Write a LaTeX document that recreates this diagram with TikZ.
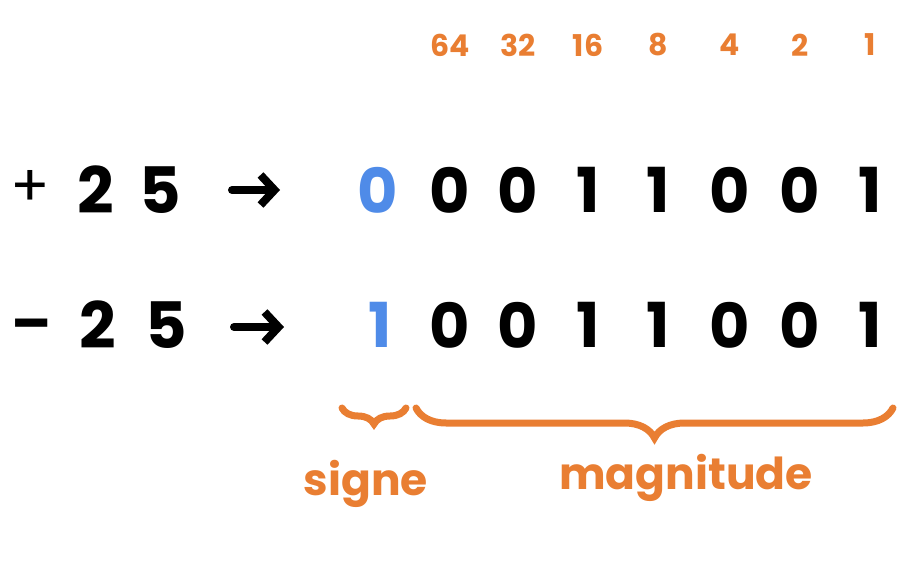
\documentclass[tikz,border=0pt]{standalone}
\usepackage{fontspec}
\setmainfont{Poppins}
\usepackage{xcolor}
\usepackage{tikz}
\usetikzlibrary{arrows.meta, positioning, decorations.pathreplacing}

\definecolor{bitorange}{HTML}{E97E32}
\definecolor{bitblue}{HTML}{4F8BE8}

\begin{document}
\begin{tikzpicture}[
        x=1pt, y=-1pt,
        every node/.style={inner sep=0pt, font=\bfseries},
        weight/.style={text=bitorange, font=\bfseries\fontsize{30}{30}\selectfont},
        bit/.style={font=\bfseries\fontsize{62}{62}\selectfont},
        signbit/.style={bit, text=bitblue},
        numchar/.style={font=\bfseries\fontsize{64}{64}\selectfont},
        pm/.style={anchor=base, font=\fontsize{58}{58}\selectfont},
        label/.style={text=bitorange, font=\bfseries\fontsize{44}{44}\selectfont},
        maparrow/.style={draw, line width=8pt, line cap=round, -{Straight Barb[length=14pt, width=30pt, line width=8pt]}},
        bracket/.style={draw=bitorange, line width=7pt, line cap=round, decorate}
    ]
        \useasboundingbox (0,0) rectangle (924,562);

        % Weights
        \foreach \w/\x in {64/450, 32/518, 16/588, 8/658, 4/730, 2/800, 1/870}
            \node[weight] (w\w) at (\x,45) {\w};

        % +25
        \node[pm] (plus) at (30,206) {+};
        \node[numchar] (pa) at (96,190) {2};
        \node[numchar] (pb) at (160,190) {5};
        \coordinate (pfrom) at (232,190);
        \coordinate (pto) at (280,190);
        \draw[maparrow] (pfrom) -- (pto);
        \node[signbit] (ps) at (378,190) {0};
        \foreach \b/\w in {0/64, 0/32, 1/16, 1/8, 0/4, 0/2, 1/1}
            \node[bit, anchor=center] (p\w) at (w\w |- ps) {\b};

        % -25
        \node[pm, font=\bfseries\fontsize{58}{58}\selectfont] (minus) at (32,343) {--};
        \node[numchar] (ma) at (98,325) {2};
        \node[numchar] (mb) at (166,325) {5};
        \coordinate (mfrom) at (234,327);
        \coordinate (mto) at (284,327);
        \draw[maparrow] (mfrom) -- (mto);
        \node[signbit] (ms) at (380,325) {1};
        \foreach \b/\w in {0/64, 0/32, 1/16, 1/8, 0/4, 0/2, 1/1}
            \node[bit, anchor=center] (m\w) at (w\w |- ms) {\b};

        % Braces
        \coordinate (sl) at (342,408);
        \coordinate (sr) at (406,408);
        \coordinate (ml) at (416,408);
        \coordinate (mr) at (893,408);
        \draw[bracket, decoration={brace, mirror, amplitude=16pt}] (sl) -- (sr);
        \draw[bracket, decoration={brace, mirror, amplitude=30pt}] (ml) -- (mr);

        % Labels
        \node[label] (signe) at (366,484) {signe};
        \node[label] (magn) at (686,478) {magnitude};
    \end{tikzpicture}
\end{document}
